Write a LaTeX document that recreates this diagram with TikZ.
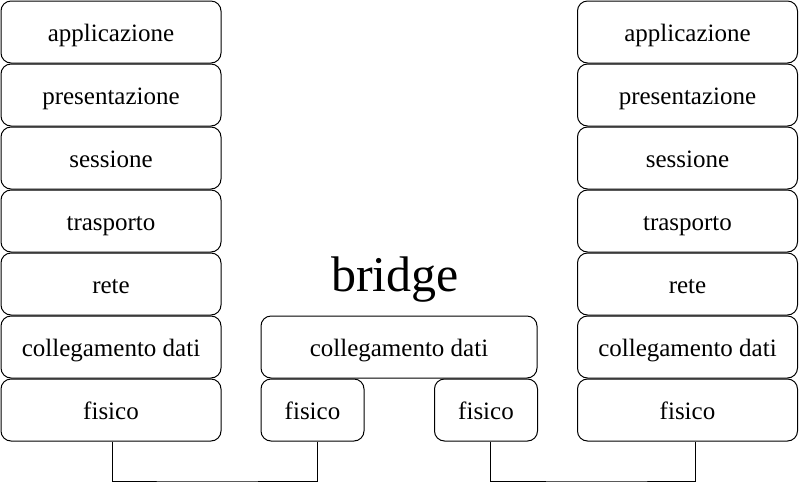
\documentclass[tikz,border=0pt]{standalone}
\usepackage{fontspec}
\setmainfont{Liberation Serif}
\begin{document}
\begin{tikzpicture}
    [x=0.5pt,y=-0.5pt,line width=0.5pt,
     layer/.style={draw,rounded corners=5pt,inner sep=0pt,minimum height=31pt,
       text height=10pt,text depth=0.5pt,
       font=\fontsize{12.5}{15}\selectfont},
     stack/.style={layer,minimum width=110pt},
     wide/.style={layer,minimum width=138pt},
     half/.style={layer,minimum width=51.5pt}]

    \useasboundingbox (0,0) rectangle (800,484);

    % left host:
    \node (la) at (111, 32) [stack] {applicazione};
    \node (lp) at (111, 95) [stack] {presentazione};
    \node (ls) at (111, 158) [stack] {sessione};
    \node (lt) at (111, 221) [stack] {trasporto};
    \node (lr) at (111, 284) [stack] {rete};
    \node (ld) at (111, 347) [stack] {collegamento dati};
    \node (lf) at (111, 410) [stack] {fisico};

    % right host:
    \node (ra) at (687.5, 32) [stack] {applicazione};
    \node (rp) at (687.5, 95) [stack] {presentazione};
    \node (rs) at (687.5, 158) [stack] {sessione};
    \node (rt) at (687.5, 221) [stack] {trasporto};
    \node (rr) at (687.5, 284) [stack] {rete};
    \node (rd) at (687.5, 347) [stack] {collegamento dati};
    \node (rf) at (687.5, 410) [stack] {fisico};

    % bridge:
    \node (bname) at (395, 280) [font=\fontsize{25}{30}\selectfont] {bridge};
    \node (bd) at (399, 347) [wide] {collegamento dati};
    \node (bfl) at (312.5, 410) [half] {fisico};
    \node (bfr) at (486, 410) [half] {fisico};

    % cables:
    \coordinate (cl) at (200, 481);
    \coordinate (cr) at (600, 481);
    \draw ([xshift=0.5pt]lf.south) |- (cl) -| ([xshift=2.25pt]bfl.south);
    \draw ([xshift=2pt]bfr.south) |- (cr) -| ([xshift=3.75pt]rf.south);

  \end{tikzpicture}
\end{document}
